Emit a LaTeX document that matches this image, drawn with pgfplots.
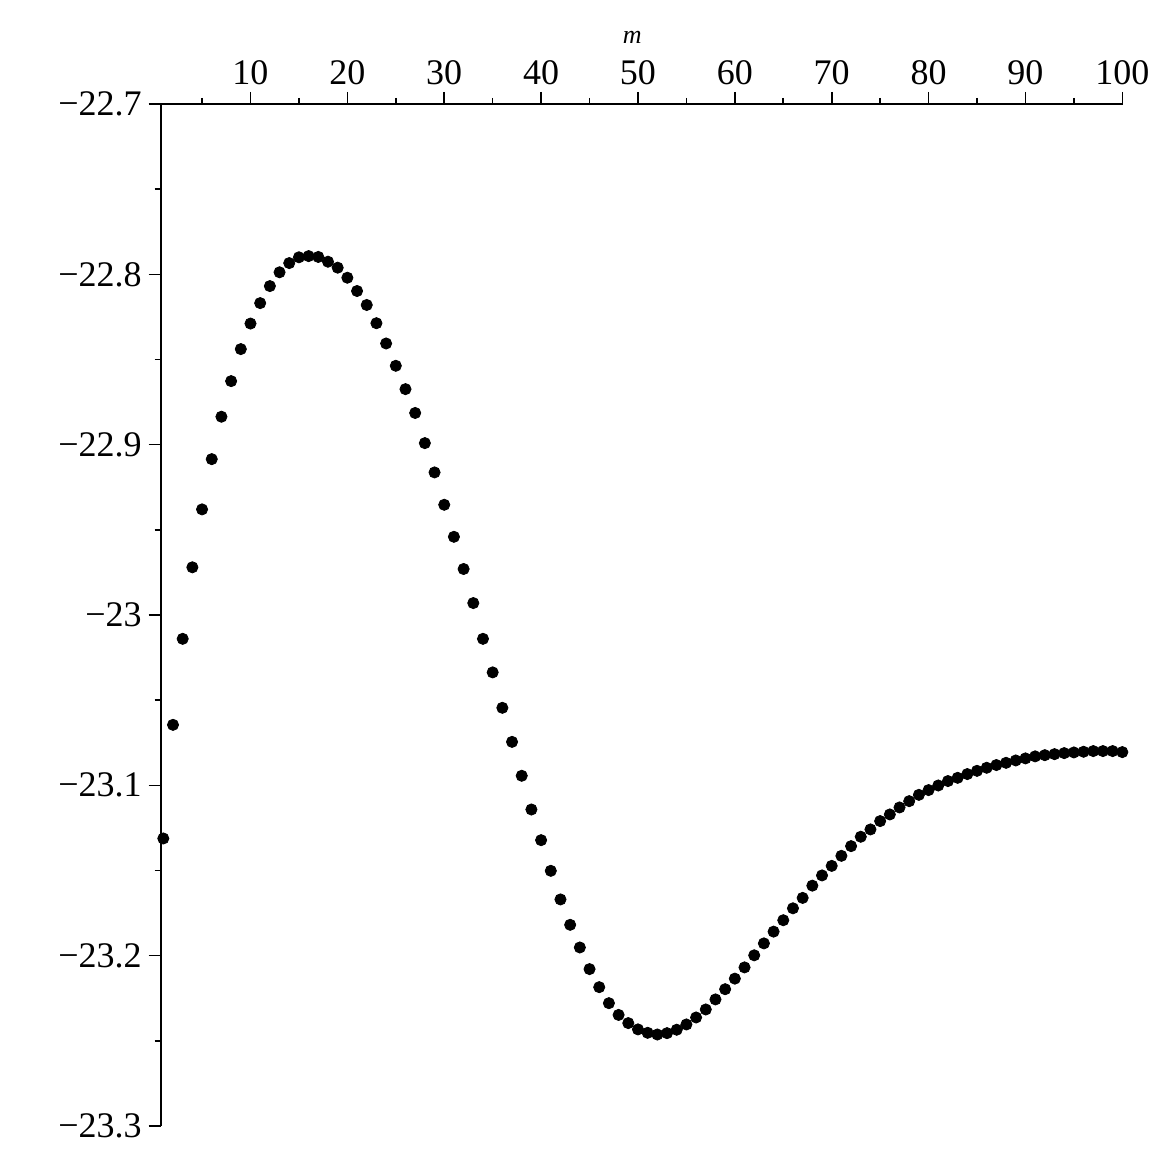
\documentclass[border=0pt]{standalone}
\usepackage{fontspec}
\setmainfont{Liberation Serif}
\usepackage{pgfplots}
\pgfplotsset{compat=1.18}
\usetikzlibrary{calc}

\begin{document}
\begin{tikzpicture}
\begin{axis}[
  name=ax,
  scale only axis,
  width=481.15pt, height=511pt,
  xmin=0.73, xmax=100.07,
  ymin=-23.3, ymax=-22.7,
  axis x line=top, axis y line=left,
  axis line style={-, line width=1pt},
  tick align=outside,
  major tick length=6pt, minor tick length=3pt,
  every tick/.style={black, line width=0.8pt},
  xtick={10,20,...,100},
  xticklabels={10,20,30,40,50,60,70,80,90,100},
  minor xtick={5,15,...,95},
  ytick={-22.7,-22.8,-22.9,-23,-23.1,-23.2,-23.3},
  yticklabels={−22.7,−22.8,−22.9,−23,−23.1,−23.2,−23.3},
  minor ytick={-22.75,-22.85,-22.95,-23.05,-23.15,-23.25},
  tick label style={font=\fontsize{18}{18}\selectfont},
  xlabel={\textit{m}},
  xlabel style={font=\fontsize{13}{13}\selectfont, at={(axis description cs:0.49,1)}, anchor=base, yshift=30pt},
  clip=false,
]
\addplot[only marks, mark=*, mark size=2.8pt, black] table {
x y
1 -23.1312
2 -23.0645
3 -23.0140
4 -22.9720
5 -22.9380
6 -22.9085
7 -22.8836
8 -22.8627
9 -22.8439
10 -22.8289
11 -22.8169
12 -22.8069
13 -22.7988
14 -22.7934
15 -22.7900
16 -22.7893
17 -22.7898
18 -22.7926
19 -22.7961
20 -22.8020
21 -22.8098
22 -22.8180
23 -22.8287
24 -22.8406
25 -22.8537
26 -22.8674
27 -22.8814
28 -22.8991
29 -22.9163
30 -22.9353
31 -22.9541
32 -22.9730
33 -22.9930
34 -23.0140
35 -23.0337
36 -23.0545
37 -23.0745
38 -23.0944
39 -23.1142
40 -23.1322
41 -23.1502
42 -23.1670
43 -23.1819
44 -23.1952
45 -23.2079
46 -23.2185
47 -23.2279
48 -23.2348
49 -23.2396
50 -23.2433
51 -23.2453
52 -23.2463
53 -23.2455
54 -23.2435
55 -23.2404
56 -23.2363
57 -23.2316
58 -23.2257
59 -23.2197
60 -23.2135
61 -23.2069
62 -23.1998
63 -23.1928
64 -23.1859
65 -23.1792
66 -23.1722
67 -23.1661
68 -23.1589
69 -23.1529
70 -23.1473
71 -23.1414
72 -23.1357
73 -23.1302
74 -23.1259
75 -23.1210
76 -23.1171
77 -23.1130
78 -23.1093
79 -23.1056
80 -23.1028
81 -23.1001
82 -23.0975
83 -23.0956
84 -23.0934
85 -23.0915
86 -23.0897
87 -23.0881
88 -23.0868
89 -23.0854
90 -23.0842
91 -23.0830
92 -23.0823
93 -23.0817
94 -23.0811
95 -23.0807
96 -23.0803
97 -23.0799
98 -23.0799
99 -23.0799
100 -23.0805
};
\end{axis}
\path[use as bounding box] ($(ax.south west)+(-80.35pt,-18.5pt)$) rectangle ($(ax.north east)+(20pt,52pt)$);
\end{tikzpicture}
\end{document}
